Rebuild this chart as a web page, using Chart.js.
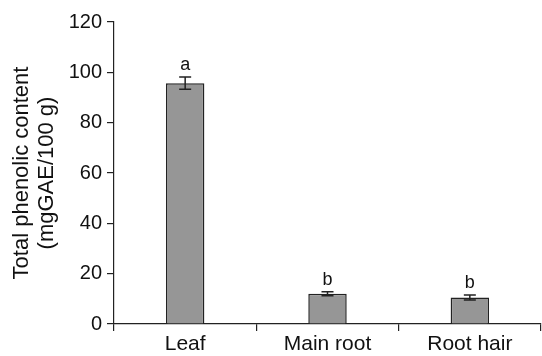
<!DOCTYPE html>
<html>
<head>
<meta charset="utf-8">
<script src="https://cdn.jsdelivr.net/npm/chart.js@4"></script>
<style>
  html, body { margin: 0; padding: 0; background: #fff; }
  #wrap { width: 542px; height: 356px; }
</style>
</head>
<body>
<div id="wrap"><canvas id="myChart"></canvas></div>
<script>
  const labels = ['Leaf', 'Main root', 'Root hair'];
  const values = [95.7, 12.0, 10.5];
  const errors = [2.4, 0.8, 1.0];
  const letters = ['a', 'b', 'b'];

  // error bars + significance letters
  const errorBars = {
    id: 'errorBars',
    afterDatasetsDraw(chart) {
      const ctx = chart.ctx;
      const meta = chart.getDatasetMeta(0);
      const y = chart.scales.y;
      ctx.save();
      ctx.strokeStyle = '#222';
      ctx.lineWidth = 1.5;
      meta.data.forEach((bar, i) => {
        const top = y.getPixelForValue(values[i] + errors[i]);
        const bot = y.getPixelForValue(values[i] - errors[i]);
        const x = bar.x;
        ctx.beginPath();
        ctx.moveTo(x, top); ctx.lineTo(x, bot);
        ctx.moveTo(x - 6, top); ctx.lineTo(x + 6, top);
        ctx.moveTo(x - 6, bot); ctx.lineTo(x + 6, bot);
        ctx.stroke();
        ctx.fillStyle = '#111';
        ctx.font = '18px "Liberation Sans", Arial, sans-serif';
        ctx.textAlign = 'center';
        ctx.textBaseline = 'alphabetic';
        ctx.fillText(letters[i], x, top - 7);
      });
      ctx.restore();
    }
  };

  const data = {
    labels: labels,
    datasets: [{
      data: values,
      backgroundColor: 'rgb(150, 150, 150)',
      borderColor: '#222',
      borderWidth: 1.5,
      barPercentage: 0.27,
      categoryPercentage: 1.0,
    }]
  };

  const config = {
    type: 'bar',
    data: data,
    plugins: [errorBars],
    options: {
      responsive: true,
      maintainAspectRatio: false,
      animation: false,
      layout: {
        padding: { top: 22, right: 1, left: 0, bottom: 0 }
      },
      plugins: {
        legend: { display: false },
        tooltip: { enabled: false }
      },
      scales: {
        x: {
          grid: {
            offset: true,
            drawOnChartArea: false,
            tickLength: 7,
            color: '#222',
            lineWidth: 1.2
          },
          border: { color: '#222', width: 1.2 },
          ticks: {
            color: '#111',
            padding: 1,
            font: { family: '"Liberation Sans", Arial, sans-serif', size: 21 }
          },
          afterFit(scale) { scale.height = 32; }
        },
        y: {
          min: 0,
          max: 120,
          grid: {
            drawOnChartArea: false,
            tickLength: 7,
            color: '#222',
            lineWidth: 1.2
          },
          border: { color: '#222', width: 1.2 },
          ticks: {
            stepSize: 20,
            color: '#111',
            padding: 5,
            font: { family: '"Liberation Sans", Arial, sans-serif', size: 20 }
          },
          title: {
            display: true,
            text: ['Total phenolic content', '(mgGAE/100 g)'],
            color: '#111',
            padding: { top: 9, bottom: 0 },
            font: { family: '"Liberation Sans", Arial, sans-serif', size: 22, lineHeight: 1.14 }
          },
          afterFit(scale) { scale.width = 114; }
        }
      }
    }
  };

  const myChart = new Chart(
    document.getElementById('myChart'),
    config
  );
</script>
</body>
</html>
